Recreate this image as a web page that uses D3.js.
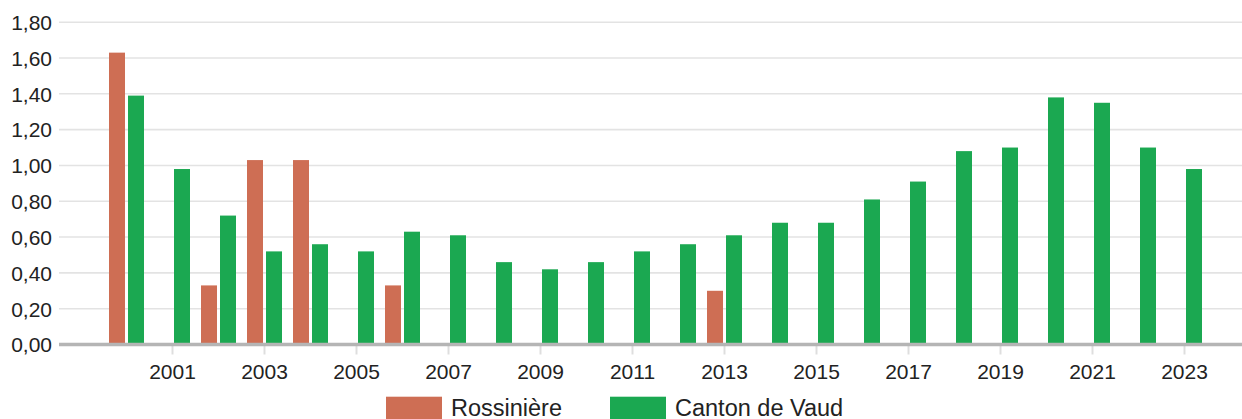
<!DOCTYPE html>
<html>
<head>
<meta charset="utf-8">
<script src="https://cdn.jsdelivr.net/npm/d3@7"></script>
<style>
  html, body { margin: 0; padding: 0; background: #fff; }
  svg { display: block; font-family: "Liberation Sans", Arial, sans-serif; }
</style>
</head>
<body>
<svg id="chart" width="1242" height="419"></svg>
<script>
const years = [2000,2001,2002,2003,2004,2005,2006,2007,2008,2009,2010,2011,2012,2013,2014,2015,2016,2017,2018,2019,2020,2021,2022,2023];
const seriesNames = ["Rossinière", "Canton de Vaud"];
const rossiniere = [1.63,null,0.33,1.03,1.03,null,0.33,null,null,null,null,null,null,0.30,null,null,null,null,null,null,null,null,null,null];
const vaud = [1.39,0.98,0.72,0.52,0.56,0.52,0.63,0.61,0.46,0.42,0.46,0.52,0.56,0.61,0.68,0.68,0.81,0.91,1.08,1.10,1.38,1.35,1.10,0.98];
const yTicks = [0,0.2,0.4,0.6,0.8,1.0,1.2,1.4,1.6,1.8];
const xTickYears = [2001,2003,2005,2007,2009,2011,2013,2015,2017,2019,2021,2023];
const colors = ["#ce6e54", "#1ba851"];

const svg = d3.select("#chart");
const W = 1242;
const plotLeft = 59, plotRight = 1242;
const y = d3.scaleLinear().domain([0, 1.8]).range([344.5, 22.2]);
const pi = 11/46;
const x = d3.scaleBand().domain(years).range([103.5, 1207.5]).paddingInner(pi).paddingOuter(pi/2);
const x1 = d3.scaleBand().domain(seriesNames).range([0, x.bandwidth()]).paddingInner(0.158);
const fmt = v => d3.format(".2f")(v).replace(".", ",");

// gridlines
svg.append("g").selectAll("line").data(yTicks.filter(t => t > 0)).join("line")
  .attr("x1", plotLeft).attr("x2", plotRight)
  .attr("y1", d => y(d)).attr("y2", d => y(d))
  .attr("stroke", "#e3e3e3").attr("stroke-width", 1.6);

// y labels
const yAxis = d3.axisLeft(y).tickValues(yTicks).tickFormat(fmt).tickSize(0).tickPadding(0);
const gy = svg.append("g").attr("transform", `translate(52,0)`).call(yAxis);
gy.select(".domain").remove();
gy.selectAll("text").attr("font-size", 21).attr("fill", "#222").attr("dy", "0.35em")
  .attr("font-family", "'Liberation Sans', Arial, sans-serif");

// bars
const data = [rossiniere, vaud];
data.forEach((vals, si) => {
  svg.append("g").selectAll("rect")
    .data(years.map((yr, i) => ({yr, v: vals[i]})).filter(d => d.v != null))
    .join("rect")
    .attr("x", d => x(d.yr) + x1(seriesNames[si]))
    .attr("width", x1.bandwidth())
    .attr("y", d => y(d.v))
    .attr("height", d => y(0) - y(d.v))
    .attr("fill", colors[si]);
});

// x axis ticks and labels
const xAxis = d3.axisBottom(x).tickValues(xTickYears).tickSize(10).tickPadding(6).tickFormat(d => String(d));
const gx = svg.append("g").attr("transform", `translate(0,${y(0)})`).call(xAxis);
gx.select(".domain").remove();
gx.selectAll(".tick line").attr("stroke", "#dedede").attr("stroke-width", 2);
gx.selectAll("text").attr("font-size", 21).attr("fill", "#222").attr("dy", "0.9em")
  .attr("font-family", "'Liberation Sans', Arial, sans-serif");

// baseline
svg.append("line").attr("x1", plotLeft).attr("x2", plotRight)
  .attr("y1", y(0)).attr("y2", y(0))
  .attr("stroke", "#b5b5b5").attr("stroke-width", 3.3);

// legend
const legendX = [386, 610];
const lg = svg.append("g");
seriesNames.forEach((name, i) => {
  lg.append("rect").attr("x", legendX[i]).attr("y", 396.7).attr("width", 56).attr("height", 24).attr("fill", colors[i]);
  lg.append("text").attr("x", legendX[i] + 65).attr("y", 416).attr("font-size", 23.5).attr("fill", "#222")
    .text(name);
});
</script>
</body>
</html>
